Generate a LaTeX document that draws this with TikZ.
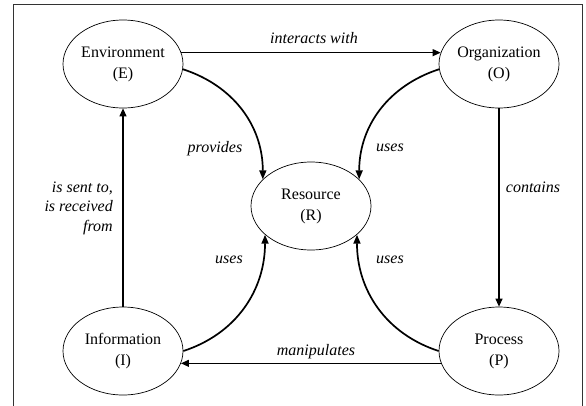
\documentclass[tikz,border=0pt]{standalone}
\usepackage{fontspec}
\setmainfont{Liberation Serif}
\usetikzlibrary{shapes.geometric,arrows.meta}
\begin{document}
\begin{tikzpicture}[x=1pt,y=-1pt,
  entity/.style={ellipse,draw,line width=0.7pt,minimum width=120pt,minimum height=88pt,
    inner sep=0pt,align=center,font=\fontsize{16}{21}\selectfont},
  rel/.style={font=\fontsize{16}{19.5}\selectfont\itshape,inner sep=0pt},
  flow/.style={line width=1.1pt,-{Triangle[length=8pt,width=7pt]}},
  curve/.style={line width=1.7pt,-{Triangle[length=9pt,width=7pt]}}
]
\useasboundingbox (0,0) rectangle (586,405);
\clip (0,0) rectangle (586,405);
\draw[line width=1pt,draw=black!80] (13,4) rectangle (582,420);

% entities
\node[entity] (E) at (123,64)  {Environment\\(E)};
\node[entity] (O) at (499,64)  {Organization\\(O)};
\node[entity] (R) at (311,206) {Resource\\(R)};
\node[entity] (I) at (123,351) {Information\\(I)};
\node[entity] (P) at (499,351) {Process\\(P)};

% straight relations
\draw[flow] (E.11) -- (O.169);
\draw[flow] (O.south) -- (P.north);
\draw[flow] (P.192) -- (I.-12);
\draw[flow] (I.north) -- (E.south);

% curved relations towards the resource
\draw[curve] (E.-5) to[out=-18,in=90] (R.151);
\draw[curve] (O.185) to[out=198,in=90] (R.29);
\draw[curve] (I.east) to[out=18,in=270] (R.212);
\draw[curve] (P.west) to[out=162,in=270] (R.-32);

% relation labels
\node[rel,anchor=base] (l1) at (314,43) {interacts with};
\node[rel,anchor=base] (l2) at (215,152) {provides};
\node[rel,anchor=base] (l3) at (390,151) {uses};
\node[rel,anchor=base] (l4) at (533,192) {contains};
\node[rel,anchor=east,align=right] (l5) at (113,208) {is sent to,\\is received\\from};
\node[rel,anchor=base] (l6) at (229,263) {uses};
\node[rel,anchor=base] (l7) at (390,263) {uses};
\node[rel,anchor=base] (l8) at (316,355) {manipulates};
\end{tikzpicture}
\end{document}
